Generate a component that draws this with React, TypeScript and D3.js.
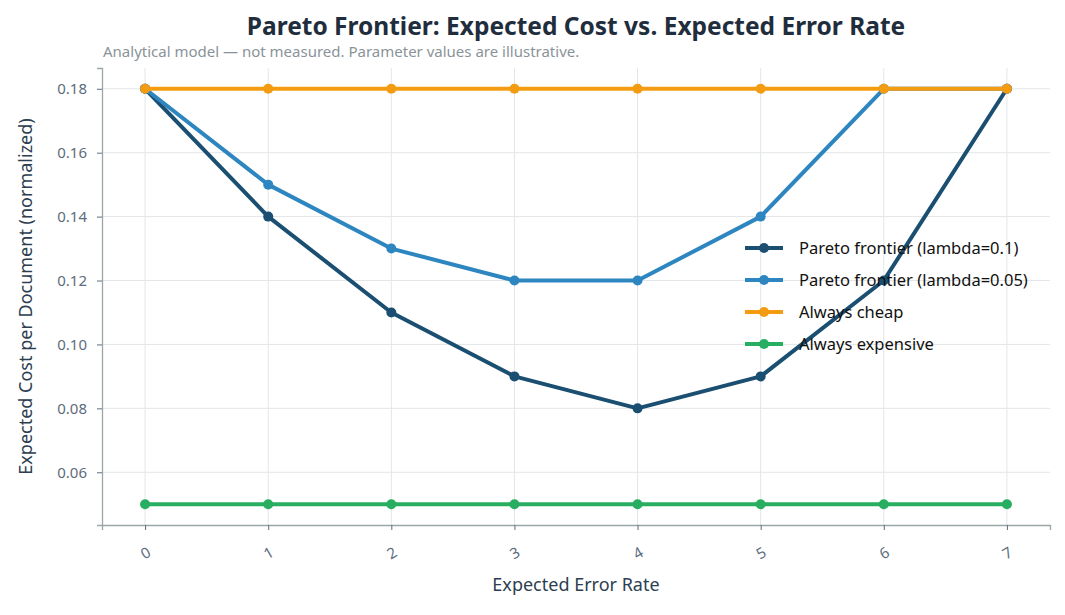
import React, { useRef, useEffect } from 'react';
import * as d3 from 'd3';

const errorRates = [0, 1, 2, 3, 4, 5, 6, 7];
const frontierLambda01 = [0.18, 0.14, 0.11, 0.09, 0.08, 0.09, 0.12, 0.18];
const frontierLambda005 = [0.18, 0.15, 0.13, 0.12, 0.12, 0.14, 0.18, 0.18];
const alwaysCheap = [0.18, 0.18, 0.18, 0.18, 0.18, 0.18, 0.18, 0.18];
const alwaysExpensive = [0.05, 0.05, 0.05, 0.05, 0.05, 0.05, 0.05, 0.05];
const yTicks = [0.06, 0.08, 0.1, 0.12, 0.14, 0.16, 0.18];

const seriesList = [
    { name: 'Pareto frontier (lambda=0.1)', values: frontierLambda01, color: '#1b4f72' },
    { name: 'Pareto frontier (lambda=0.05)', values: frontierLambda005, color: '#2e86c1' },
    { name: 'Always cheap', values: alwaysCheap, color: '#f39c12' },
    { name: 'Always expensive', values: alwaysExpensive, color: '#27ae60' },
];

const FONT = '"Noto Sans", "DejaVu Sans", sans-serif';

function App() {
    const ref = useRef<SVGSVGElement>(null);

    useEffect(() => {
        const width = 1065;
        const height = 615;
        const margin = { top: 68, right: 15, bottom: 90, left: 102 };
        const innerW = width - margin.left - margin.right;
        const innerH = height - margin.top - margin.bottom;

        const svg = d3.select(ref.current);
        svg.selectAll('*').remove();
        svg.attr('width', width).attr('height', height).style('font-family', FONT);

        svg.append('rect').attr('width', width).attr('height', height).attr('fill', '#ffffff');

        const g = svg.append('g').attr('transform', `translate(${margin.left},${margin.top})`);

        // matplotlib-style 5% padding around the data
        const x = d3.scaleLinear().domain([-0.35, 7.35]).range([0, innerW]);
        const y = d3.scaleLinear().domain([0.0435, 0.1865]).range([innerH, 0]);

        // grid
        g.append('g')
            .selectAll('line')
            .data(errorRates)
            .join('line')
            .attr('x1', d => x(d))
            .attr('x2', d => x(d))
            .attr('y1', 0)
            .attr('y2', innerH)
            .attr('stroke', '#e3e6e8')
            .attr('stroke-width', 1);
        g.append('g')
            .selectAll('line')
            .data(yTicks)
            .join('line')
            .attr('x1', 0)
            .attr('x2', innerW)
            .attr('y1', d => y(d))
            .attr('y2', d => y(d))
            .attr('stroke', '#e3e6e8')
            .attr('stroke-width', 1);

        // axes
        const xAxis = g.append('g')
            .attr('transform', `translate(0,${innerH})`)
            .call(d3.axisBottom(x).tickValues(errorRates).tickFormat(d3.format('d')).tickSize(5));
        const yAxis = g.append('g')
            .call(d3.axisLeft(y).tickValues(yTicks).tickFormat(d3.format('.2f')).tickSize(5).tickPadding(10));

        [xAxis, yAxis].forEach(ax => {
            ax.select('.domain').attr('stroke', '#9ba7a7').attr('stroke-width', 1.3);
            ax.selectAll('.tick line').attr('stroke', '#5d6d7e');
            ax.selectAll('.tick text')
                .attr('fill', '#5d6d7e')
                .style('font-size', '15px')
                .style('font-family', FONT);
        });
        // rotated tick labels, centred under each tick
        xAxis.selectAll('.tick text')
            .attr('text-anchor', 'middle')
            .attr('y', 0)
            .attr('dy', '0.35em')
            .attr('transform', 'translate(0,28) rotate(-30)');

        // axis titles
        g.append('text')
            .attr('x', innerW / 2)
            .attr('y', innerH + 66)
            .attr('text-anchor', 'middle')
            .attr('fill', '#2c3e50')
            .style('font-size', '18px')
            .text('Expected Error Rate');
        g.append('text')
            .attr('transform', 'rotate(-90)')
            .attr('x', -innerH / 2)
            .attr('y', -70)
            .attr('text-anchor', 'middle')
            .attr('fill', '#2c3e50')
            .style('font-size', '18px')
            .text('Expected Cost per Document (normalized)');

        // lines and markers
        const line = d3.line<number>()
            .x((_, i) => x(errorRates[i]))
            .y(d => y(d));

        seriesList.forEach(s => {
            const sg = g.append('g');
            sg.append('path')
                .datum(s.values)
                .attr('d', line)
                .attr('fill', 'none')
                .attr('stroke', s.color)
                .attr('stroke-width', 4)
                .attr('stroke-linejoin', 'round');
            sg.selectAll('circle')
                .data(s.values)
                .join('circle')
                .attr('cx', (_, i) => x(errorRates[i]))
                .attr('cy', d => y(d))
                .attr('r', 5)
                .attr('fill', s.color);
        });

        // legend
        const legend = svg.append('g').attr('transform', 'translate(745,248)');
        seriesList.forEach((s, i) => {
            const row = legend.append('g').attr('transform', `translate(0,${i * 32})`);
            row.append('line')
                .attr('x1', 0)
                .attr('x2', 38)
                .attr('stroke', s.color)
                .attr('stroke-width', 4);
            row.append('circle').attr('cx', 19).attr('r', 5).attr('fill', s.color);
            row.append('text')
                .attr('x', 54)
                .attr('dy', '0.35em')
                .attr('fill', '#111')
                .style('font-size', '16.5px')
                .text(s.name);
        });

        // title
        svg.append('text')
            .attr('x', 576)
            .attr('y', 35)
            .attr('text-anchor', 'middle')
            .attr('fill', '#1f2d3d')
            .style('font-size', '24.5px')
            .style('font-weight', 'bold')
            .text('Pareto Frontier: Expected Cost vs. Expected Error Rate');
        svg.append('text')
            .attr('x', 103)
            .attr('y', 57)
            .attr('fill', '#8a9399')
            .style('font-size', '15px')
            .text('Analytical model \u2014 not measured. Parameter values are illustrative.');
    }, []);

    return (
        <div style={{ position: 'absolute', left: 0, top: 0 }}>
            <svg ref={ref} />
        </div>
    );
}

export default App;
